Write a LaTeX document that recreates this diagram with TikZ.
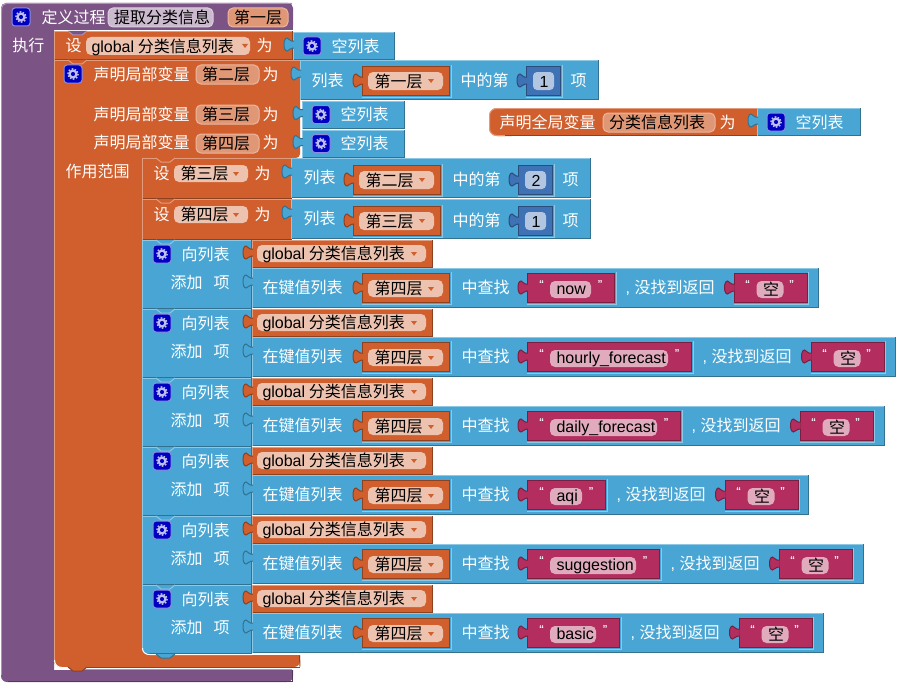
\documentclass[tikz,border=0pt]{standalone}
\usepackage{fontspec}
\setmainfont{Liberation Sans}
\newfontfamily\cjkfont{Noto Sans CJK SC}
\definecolor{procpurple}{HTML}{7C5385}
\definecolor{varorange}{HTML}{D05F2D}
\definecolor{listblue}{HTML}{49A6D4}
\definecolor{textred}{HTML}{B32D5E}
\definecolor{numblue}{HTML}{3F71B5}
\definecolor{gearblue}{HTML}{0000C0}
\newcommand{\lat}[1]{{\rmfamily #1}}
\newcommand{\piece}[5]{%
  \fill[#1] (#2,#3) rectangle (#4,#5);
  \draw[#1!62!white] (#2+.5,#5) -- (#2+.5,#3+.5) -- (#4,#3+.5);
  \draw[#1!68!black] (#2+.5,#5-.5) -- (#4-.5,#5-.5) -- (#4-.5,#3);
}
\newcommand{\inset}[5]{%
  \draw[listblue!62!white] (#2,#5+1) -- (#4+1,#5+1) -- (#4+1,#3-1);
  \piece{#1}{#2}{#3}{#4}{#5}
  \draw[#1!68!black] (#2+.5,#5) -- (#2+.5,#3+.5) -- (#4,#3+.5);
}
\newcommand{\plug}[3]{%
  \filldraw[fill=#1,draw=#1!68!black] (#2+1,#3+4) .. controls (#2-3,#3+5) and (#2-3,#3+2) .. (#2-6,#3+1)
    .. controls (#2-10,#3+1) and (#2-10,#3+14) .. (#2-6,#3+14)
    .. controls (#2-3,#3+13) and (#2-3,#3+11) .. (#2+1,#3+11);
}
\newcommand{\notch}[3]{%
  \filldraw[fill=#1,draw=#1!62!white] (#2+14,#3) -- (#2+19,#3+4) -- (#2+28,#3+4) -- (#2+33,#3);
}
\newcommand{\gear}[3]{%
  \filldraw[fill=gearblue,draw=gearblue!45!white,rounded corners=3] (#2,#3) rectangle (#2+18,#3+18);
  \draw[gearblue!25!white,line width=2.2] (#2+9,#3+9) circle (3.4);
  \draw[gearblue!25!white,line width=1.4,dash pattern=on 1.6 off 1.6] (#2+9,#3+9) circle (5.2);
}
\newcommand{\wtxt}[4]{\node[lbl,text=white] (#1) at ({#2},{#3}) {#4};}
\newcommand{\dtxt}[4]{\node[lbl,text=black] (#1) at ({#2},{#3}) {#4};}
\newcommand{\namefield}[7]{%
  \filldraw[fill=#2,draw=#2!70!white,rounded corners=5] (#3,#4) rectangle (#5,#6);
  \dtxt{#1}{#3+5.5}{(#4+#6)/2}{#7}
}
\newcommand{\dropgap}{12}
\newcommand{\dropfield}[6]{%
  \fill[varorange!38!white,rounded corners=5] (#2,#3) rectangle (#4,#5);
  \dtxt{#1}{#2+6}{(#3+#5)/2}{#6}
  \fill[varorange] (#4-\dropgap-3,#3+7) -- (#4-\dropgap+3,#3+7) -- (#4-\dropgap,#3+11) -- cycle;
}
\newcommand{\emptylist}[5]{%
  \piece{listblue}{#2}{#3}{#4}{#3+28}
  \plug{listblue}{#2}{#3+5}
  \gear{#5}{#2+10}{#3+5}
  \wtxt{#1}{#2+38}{#3+14}{空列表}
}
\begin{document}
\begin{tikzpicture}[x=1pt,y=-1pt,line width=1pt]
  \tikzset{lbl/.style={anchor=west,inner sep=0pt,text height=13.5pt,text depth=0.8pt,font=\cjkfont\fontsize{16}{17}\selectfont}}
  \tikzset{quotemark/.style={inner sep=0pt,text=white,font=\rmfamily\bfseries\fontsize{10}{10}\selectfont}}
  \useasboundingbox (0,0) rectangle (899,685);
  \fill[procpurple,rounded corners=5] (1,3) rectangle (293,30);
  \fill[procpurple] (1,10) rectangle (293,30);
  \fill[procpurple] (1,10) [rounded corners=6] -- (1,682) -- (293,682) [sharp corners] -- (293,670) -- (54,670) -- (54,30) -- (1,30) -- cycle;
  \draw[procpurple!62!white] (1.5,675) -- (1.5,9);
  \draw[procpurple!62!white,rounded corners=5] (1.5,12) -- (1.5,3.5) -- (292,3.5);
  \draw[procpurple!68!black] (292.5,670) -- (292.5,681.5) -- (8,681.5);
  \gear{iconproc}{12}{8}
  \wtxt{procdef}{41}{17}{定义过程}
  \namefield{procname}{procpurple!40!white}{108}{8}{213}{27}{提取分类信息}
  \namefield{argone}{varorange!65!white}{228}{8}{288}{27}{第一层}
  \wtxt{procdo}{12}{45}{执行}

  \piece{varorange}{54}{31}{293}{60}
  \notch{procpurple}{54}{31}
  \wtxt{setglobal}{65}{45}{设}
  {\renewcommand{\dropgap}{5}
  \dropfield{globalname}{86}{37}{250}{55}{\hspace{-1pt}\lat{global} 分类信息列表}}
  \wtxt{setas}{256}{45}{为}
  \emptylist{emptyglobal}{293}{32}{395}{icona}

  \fill[varorange] (54,60) [rounded corners=6] -- (54,667) -- (300,667) [sharp corners] -- (300,655) [rounded corners=4] -- (142,655) -- (142,158) -- (300,158) [sharp corners] -- (300,60) -- cycle;
  \draw[varorange!62!white] (54.5,660) -- (54.5,60.5) -- (300,60.5);
  \draw[varorange!62!white,rounded corners=4] (142.5,200) -- (142.5,158.5) -- (291,158.5);
  \draw[varorange!68!black] (300,666.5) -- (299.5,655.5);
  \notch{varorange}{54}{60}
  \gear{iconlocal}{64}{65}
  \wtxt{localtwo}{93}{74}{声明局部变量}
  \namefield{namesecond}{varorange!65!white}{196}{65}{259}{84}{第二层}
  \wtxt{astwo}{262}{74}{为}
  \wtxt{localthree}{93}{114}{声明局部变量}
  \namefield{namethird}{varorange!65!white}{196}{105}{259}{124}{第三层}
  \wtxt{asthree}{262}{114}{为}
  \wtxt{localfour}{93}{142}{声明局部变量}
  \namefield{namefourth}{varorange!65!white}{196}{134}{259}{153}{第四层}
  \wtxt{asfour}{262}{142}{为}
  \wtxt{scopelabel}{65}{171}{作用范围}

  \piece{listblue}{300}{60}{599}{100}
  \plug{listblue}{300}{66}
  \wtxt{listone}{311}{80}{列表}
  \inset{varorange}{362}{66}{450}{96}
  \plug{varorange}{362}{73}
  \dropfield{fieldone}{368}{72}{443}{90}{第一层}
  \wtxt{ofone}{460}{80}{中的第}
  \inset{numblue}{526}{66}{561}{96}
  \plug{numblue}{526}{73}
  \fill[numblue!40!white,rounded corners=4] (533,72) rectangle (554,90);
  \dtxt{numone}{539}{81}{\lat{1}}
  \wtxt{itemone}{570}{80}{项}
  \emptylist{emptythird}{302}{100.5}{405}{iconb}
  \emptylist{emptyfourth}{302}{129.5}{405}{iconc}

  \foreach \k/\ya/\vara/\varb/\num in {a/158/第三层/第二层/2,b/199/第四层/第三层/1}{
    \piece{varorange}{142}{\ya}{292}{\ya+41}
    \notch{varorange}{142}{\ya}
    \wtxt{set\k}{153}{\ya+15}{设}
    \dropfield{target\k}{174}{\ya+7}{248}{\ya+24}{\vara}
    \wtxt{as\k}{254}{\ya+15}{为}
    \piece{listblue}{291}{\ya}{591}{\ya+40}
    \plug{listblue}{291}{\ya+6}
    \wtxt{list\k}{303}{\ya+19}{列表}
    \inset{varorange}{353}{\ya+7}{441}{\ya+37}
    \plug{varorange}{353}{\ya+14}
    \dropfield{source\k}{359}{\ya+13}{434}{\ya+31}{\varb}
    \wtxt{of\k}{452}{\ya+21}{中的第}
    \inset{numblue}{518}{\ya+7}{553}{\ya+37}
    \plug{numblue}{518}{\ya+14}
    \fill[numblue!40!white,rounded corners=4] (525,\ya+13) rectangle (546,\ya+31);
    \dtxt{num\k}{531}{\ya+22}{\lat{\num}}
    \wtxt{item\k}{562}{\ya+21}{项}
  }

  \foreach \k/\strR/\endR/\key in {0/615/819/now,1/692/896/hourly\_forecast,2/681/885/daily\_forecast,3/606/809/aqi,4/660/864/suggestion,5/620/824/basic}{
    \pgfmathsetmacro\ya{240+69*\k}
    \pgfmathsetmacro\strB{\strR+118.5}
    \piece{listblue}{142}{\ya}{252}{\ya+69}
    \notch{listblue}{142}{\ya}
    \gear{iconadd\k}{153}{\ya+5}
    \wtxt{addto\k}{181}{\ya+14}{向列表}
    \wtxt{addword\k}{170}{\ya+42}{添加}
    \wtxt{additem\k}{213}{\ya+42}{项}
    \piece{varorange}{252}{\ya}{433}{\ya+28}
    \plug{varorange}{252}{\ya+5}
    \dropfield{listref\k}{257}{\ya+5}{426}{\ya+22}{\hspace{-1pt}\lat{global} 分类信息列表}
    \piece{listblue}{252}{\ya+28}{\endR}{\ya+68}
    \plug{listblue}{252}{\ya+34}
    \wtxt{lookup\k}{262}{\ya+47}{在键值列表}
    \inset{varorange}{362}{\ya+33}{450}{\ya+63}
    \plug{varorange}{362}{\ya+40}
    \dropfield{pairs\k}{368}{\ya+40}{443}{\ya+57}{第四层}
    \wtxt{find\k}{461}{\ya+47}{中查找}
    \inset{textred}{527}{\ya+33}{\strR}{\ya+63}
    \plug{textred}{527}{\ya+40}
    \fill[textred!40!white,rounded corners=5] (550,\ya+41) rectangle (\strR-24,\ya+58);
    \dtxt{key\k}{556}{\ya+48}{\lat{\key}}
    \node[quotemark] (keyopen\k) at (541.5,\ya+44) {“};
    \node[quotemark] (keyclose\k) at (\strR-15,\ya+44) {”};
    \wtxt{notfound\k}{\strR+10}{\ya+47}{\lat{,}\hspace{4.7pt}没找到返回}
    \inset{textred}{\strB}{\ya+33}{\strB+74}{\ya+63}
    \plug{textred}{\strB}{\ya+40}
    \fill[textred!40!white,rounded corners=5] (\strB+23,\ya+41) rectangle (\strB+50,\ya+58);
    \dtxt{blank\k}{\strB+29}{\ya+49}{空}
    \node[quotemark] (blankopen\k) at (\strB+14,\ya+44) {“};
    \node[quotemark] (blankclose\k) at (\strB+58,\ya+44) {”};
  }
  \fill[varorange] (142,647) .. controls (142,652) and (145,655) .. (150,655) -- (142,655) -- cycle;
  \draw[white] (142.5,648) .. controls (142.5,652) and (145,654.5) .. (150,654.5) -- (252,654.5);
  \filldraw[fill=listblue,draw=listblue!68!black] (156,654) -- (161,658) -- (170,658) -- (175,654);
  \draw[white] (54.5,660) .. controls (54.5,664) and (57,667.5) .. (62,667.5) -- (75,667.5);
  \draw[procpurple!62!white] (75,669.5) -- (292,669.5);
  \filldraw[fill=varorange,draw=varorange!68!black] (68,667) -- (73,671) -- (82,671) -- (87,667);
  \draw[varorange!68!black] (87,667) -- (300,667);

  \fill[varorange,rounded corners=8] (489,108) rectangle (520,136);
  \fill[varorange] (505,108) rectangle (757,136);
  \draw[varorange!62!white,rounded corners=7] (505,108.5) -- (489.5,108.5) -- (489.5,135.5) -- (505,135.5);
  \draw[varorange!62!white] (505,108.5) -- (757,108.5);
  \draw[varorange!68!black] (505,135.5) -- (757,135.5);
  \wtxt{globaldecl}{499}{122}{声明全局变量}
  \namefield{globalvar}{varorange!65!white}{603}{113}{715}{132}{分类信息列表}
  \wtxt{globalas}{719}{122}{为}
  \emptylist{emptydecl}{757}{108}{861}{icond}
\end{tikzpicture}
\end{document}
